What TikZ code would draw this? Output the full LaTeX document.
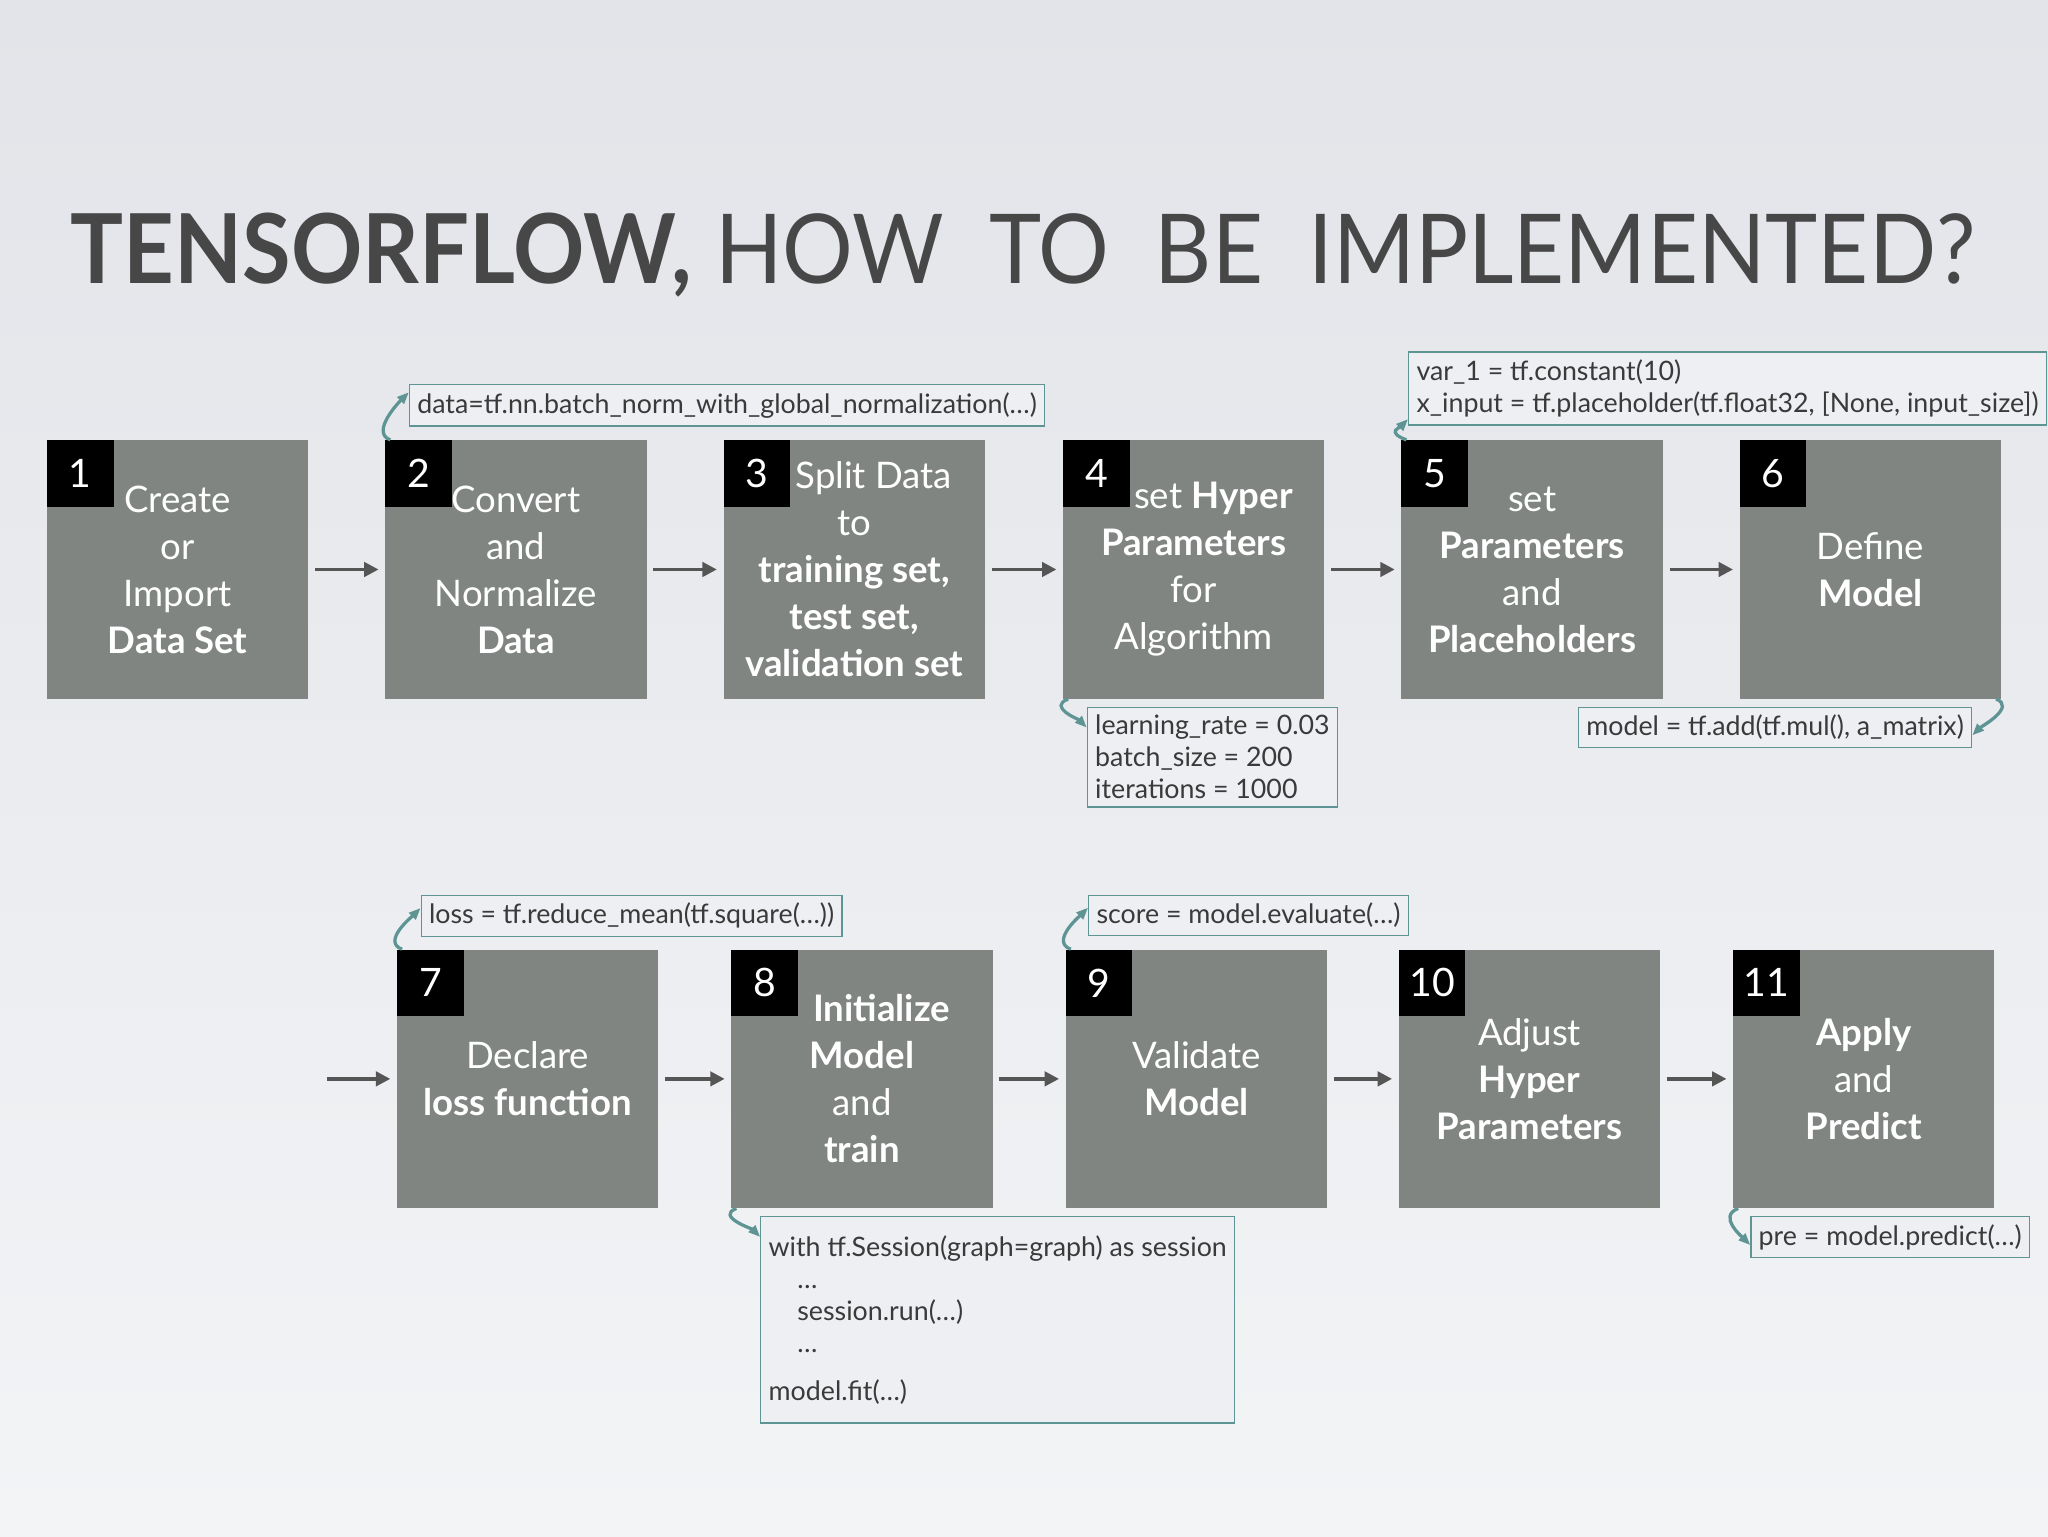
\documentclass[tikz,border=0pt]{standalone}
\usepackage{fontspec}
\setmainfont{Lato}
\usetikzlibrary{arrows.meta}
\definecolor{boxg}{HTML}{808582}
\definecolor{teal}{HTML}{5E9494}
\definecolor{codebg}{HTML}{EDEFF2}
\definecolor{codetx}{HTML}{3A3A3A}
\definecolor{arrg}{HTML}{555555}
\definecolor{bgtop}{HTML}{E2E4E9}
\definecolor{bgbot}{HTML}{F3F4F6}
\tikzset{
 stepbox/.style={fill=boxg,minimum width=200pt,minimum height=198pt,inner sep=0pt,text=white,align=center,font=\fontsize{28}{36}\selectfont},
 numbox/.style={fill=black,minimum width=51pt,minimum height=51pt,inner sep=0pt,text=white,font=\fontsize{30}{30}\selectfont,anchor=north west},
 codebox/.style={draw=teal,line width=1pt,fill=codebg,anchor=north west,inner sep=6pt,align=left,text=codetx,font=\fontsize{20.5}{24.5}\selectfont},
 flow/.style={-{Triangle[length=11pt,width=11pt]},draw=arrg,line width=2.5pt},
 curl/.style={-{Triangle[length=9pt,width=7pt]},draw=teal,line width=2.5pt},
}
\begin{document}
\begin{tikzpicture}[x=1pt,y=-1pt]
\shade[top color=bgtop, bottom color=bgbot] (0,0) rectangle (1568,1176);
\useasboundingbox (0,0) rectangle (1568,1176);
\node[anchor=base west,inner sep=0pt,text=black!72,font=\fontsize{80}{80}\selectfont] (title) at (54,217) {\resizebox{1458pt}{54pt}{\textbf{TENSORFLOW,}\ HOW\ \ TO\ \ BE\ \ IMPLEMENTED?}};
% row 1
\node[stepbox] (b1) at (136,436) {Create\\or\\Import\\\textbf{Data Set}};
\node[stepbox] (b2) at (395,436) {Convert\\and\\Normalize\\\textbf{Data}};
\node[stepbox] (b3) at (654,436) {\hspace*{30pt}Split Data\\to\\\textbf{training set,}\\\textbf{test set,}\\\textbf{validation set}};
\node[stepbox] (b4) at (914,436) {\hspace*{30pt}set \textbf{Hyper}\\\textbf{Parameters}\\for\\Algorithm};
\node[stepbox] (b5) at (1173,436) {set\\\textbf{Parameters}\\and\\\textbf{Placeholders}};
\node[stepbox] (b6) at (1432,436) {Define\\\textbf{Model}};
% row 2
\node[stepbox] (b7) at (404,826) {Declare\\\textbf{loss function}};
\node[stepbox] (b8) at (660,826) {\hspace*{30pt}\textbf{Initialize}\\\textbf{Model}\\and\\\textbf{train}};
\node[stepbox] (b9) at (916,826) {Validate\\\textbf{Model}};
\node[stepbox] (b10) at (1171,826) {Adjust\\\textbf{Hyper}\\\textbf{Parameters}};
\node[stepbox] (b11) at (1427,826) {\textbf{Apply}\\and\\\textbf{Predict}};
\foreach \i in {1,...,11} {\node[numbox] (n\i) at (b\i.north west) {\i};}
% flow arrows
\foreach \a/\b in {b1/b2,b2/b3,b3/b4,b4/b5,b5/b6,b7/b8,b8/b9,b9/b10,b10/b11}
  {\draw[flow] ([xshift=5pt]\a.east) -- ([xshift=-5pt]\b.west);}
\coordinate (s7) at (250,826);
\draw[flow] (s7) -- ([xshift=-5pt]b7.west);
% code boxes
\node[codebox] (c2) at (313,294) {data=tf.nn.batch\_norm\_with\_global\_normalization(…)};
\node[codebox] (c5) at (1078,269) {var\_1 = tf.constant(10)\\x\_input = tf.placeholder(tf.float32, [None, input\_size])};
\node[codebox] (c4) at (832,541) {learning\_rate = 0.03\\batch\_size = 200\\iterations = 1000};
\node[codebox] (c6) at (1208,541) {model = tf.add(tf.mul(), a\_matrix)};
\node[codebox] (c7) at (322,685) {loss = tf.reduce\_mean(tf.square(…))};
\node[codebox] (c9) at (833,685) {score = model.evaluate(…)};
\node[codebox,minimum width=360pt,minimum height=158pt] (c8) at (582,931) {with tf.Session(graph=graph) as session\\\hspace*{22pt}…\\\hspace*{22pt}session.run(…)\\\hspace*{22pt}…\\[12pt]model.fit(…)};
\node[codebox] (c11) at (1340,931) {pre = model.predict(…)};
% curls
\draw[curl] ([xshift=4pt]b2.north west) .. controls +(-16,-6) and +(-6,6) .. ([yshift=10pt]c2.west);
\draw[curl] ([xshift=4pt]b5.north west) .. controls +(-16,-6) and +(-6,6) .. ([yshift=5pt]c5.south west);
\draw[curl] ([xshift=4pt]b7.north west) .. controls +(-16,-6) and +(-6,6) .. ([yshift=6pt]c7.west);
\draw[curl] ([xshift=4pt]b9.north west) .. controls +(-16,-6) and +(-6,6) .. ([yshift=6pt]c9.west);
\draw[curl] ([xshift=4pt]b4.south west) .. controls +(-16,6) and +(-6,-6) .. ([yshift=-16pt]c4.north west);
\draw[curl] ([xshift=4pt]b8.south west) .. controls +(-16,6) and +(-6,-6) .. ([yshift=-16pt]c8.north west);
\draw[curl] ([xshift=4pt]b11.south west) .. controls +(-16,6) and +(-6,-6) .. ([yshift=-6pt]c11.west);
\draw[curl] ([xshift=-4pt]b6.south east) .. controls +(16,6) and +(6,-6) .. ([yshift=-6pt]c6.east);
\end{tikzpicture}
\end{document}
